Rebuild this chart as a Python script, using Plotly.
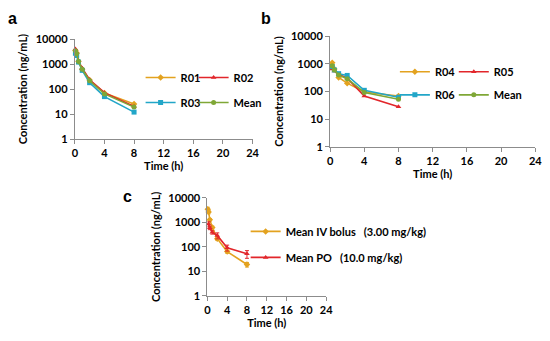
import plotly.graph_objects as go

# ---------------- data ----------------
t_iv = [0.083, 0.25, 0.5, 1, 2, 4, 8]
R01 = [3500, 2800, 1300, 620, 230, 70, 25]
R02 = [4000, 3000, 1350, 680, 235, 72, 20]
R03 = [2700, 2200, 1200, 560, 180, 50, 12]
mean_a = [3400, 2600, 1280, 620, 215, 64, 19]

t_po = [0.25, 0.5, 1, 2, 4, 8]
R04 = [1100, 650, 320, 200, 95, 68]
R05 = [650, 550, 420, 300, 68, 28]
R06 = [800, 600, 440, 380, 110, 62]
mean_b = [850, 600, 390, 290, 92, 52]

iv_mean = [3400, 2600, 1280, 620, 215, 64, 19]
iv_sd = [700, 400, 150, 80, 30, 9, 4]
po_mean = [850, 600, 390, 290, 92, 52]
po_sd = [200, 100, 60, 80, 25, 18]

x_ticks = [0, 4, 8, 12, 16, 20, 24]
y_ticks = [1, 10, 100, 1000, 10000]
y_ticktext = ["1", "10", "100", "1000", "10000"]

ORANGE = "#E3A21F"
RED = "#E2262B"
CYAN = "#22A6C8"
GREEN = "#7FA736"
AXC = "#8C8C8C"
FONT = "Lato"

W, H = 550, 341
OFF = 8  # the page body adds an 8px margin around the figure

fig = go.Figure()

def add(x, y, name, color, symbol, xa, ya, legend, err=None):
    fig.add_trace(go.Scatter(
        x=x, y=y, name=name, mode="lines+markers",
        line=dict(color=color, width=1.6),
        marker=dict(color=color, symbol=symbol, size=5),
        xaxis=xa, yaxis=ya, legend=legend, cliponaxis=False,
        error_y=(dict(type="data", array=err, color=color, thickness=1, width=2)
                 if err is not None else None),
    ))

# panel a
add(t_iv, R01, "R01", ORANGE, "diamond", "x", "y", "legend")
add(t_iv, R02, "R02", RED, "triangle-up", "x", "y", "legend2")
add(t_iv, R03, "R03", CYAN, "square", "x", "y", "legend3")
add(t_iv, mean_a, "Mean", GREEN, "circle", "x", "y", "legend4")
# panel b
add(t_po, R04, "R04", ORANGE, "diamond", "x2", "y2", "legend5")
add(t_po, R05, "R05", RED, "triangle-up", "x2", "y2", "legend6")
add(t_po, R06, "R06", CYAN, "square", "x2", "y2", "legend7")
add(t_po, mean_b, "Mean", GREEN, "circle", "x2", "y2", "legend8")
# panel c
add(t_iv, iv_mean, "Mean IV bolus\u00a0\u00a0\u00a0(3.00 mg/kg)", ORANGE, "diamond",
    "x3", "y3", "legend9", iv_sd)
add(t_po, po_mean, "Mean PO\u00a0\u00a0\u00a0(10.0 mg/kg)", RED, "triangle-up",
    "x3", "y3", "legend10", po_sd)

def px(x):
    return (x - OFF) / W

def py(y):
    return 1 - (y - OFF) / H

def xdom(a, b):
    return [px(a), px(b)]

def ydom(top, bottom):
    return [py(bottom), py(top)]

tickfont = dict(family=FONT, size=11, color="#000", weight="bold")
titlefont = dict(family=FONT, size=11, color="#000", weight="bold")

def xax(dom, anchor):
    return dict(domain=dom, anchor=anchor, range=[0, 24], tickvals=x_ticks,
                showline=True, linecolor=AXC, linewidth=1, ticks="outside",
                ticklen=4, tickcolor=AXC, showgrid=False, zeroline=False,
                tickfont=tickfont, fixedrange=True,
                title=dict(text="Time (h)", font=titlefont, standoff=3))

def yax(dom, anchor):
    return dict(domain=dom, anchor=anchor, type="log", range=[0, 4],
                tickvals=y_ticks, ticktext=y_ticktext,
                showline=True, linecolor=AXC, linewidth=1, ticks="outside",
                ticklen=4, tickcolor=AXC, showgrid=False, zeroline=False,
                tickfont=tickfont, fixedrange=True,
                title=dict(text="Concentration (ng/mL)", font=titlefont, standoff=5))

legfont = dict(family=FONT, size=11, color="#000", weight="bold")

def leg(xp, yp):
    return dict(orientation="h", x=px(xp - 40), y=py(yp),
                xanchor="left", yanchor="middle", font=legfont,
                bgcolor="rgba(0,0,0,0)",
                itemclick=False, itemdoubleclick=False)

fig.update_layout(
    width=W, height=H, margin=dict(l=0, r=0, t=0, b=0),
    paper_bgcolor="white", plot_bgcolor="white",
    font=dict(family=FONT, color="#000"),
    xaxis=xax(xdom(73, 254), "y"), yaxis=yax(ydom(33, 137), "x"),
    xaxis2=xax(xdom(333, 542), "y2"), yaxis2=yax(ydom(30, 145), "x2"),
    xaxis3=xax(xdom(208, 329), "y3"), yaxis3=yax(ydom(198, 300), "x3"),
    legend=leg(180, 73), legend2=leg(234, 73),
    legend3=leg(180, 99), legend4=leg(234, 99),
    legend5=leg(439, 67), legend6=leg(499, 67),
    legend7=leg(439, 91), legend8=leg(499, 91),
    legend9=leg(287, 233), legend10=leg(287, 260),
    showlegend=True,
)

for txt, x, y in [("a", 10, 12), ("b", 268, 12), ("c", 127, 197)]:
    fig.add_annotation(text=txt, x=px(x), y=py(y), xref="paper",
                       yref="paper", showarrow=False, xanchor="center", yanchor="middle",
                       font=dict(family="Liberation Sans", size=16, color="#000", weight="bold"))

fig.write_html("out.html")
